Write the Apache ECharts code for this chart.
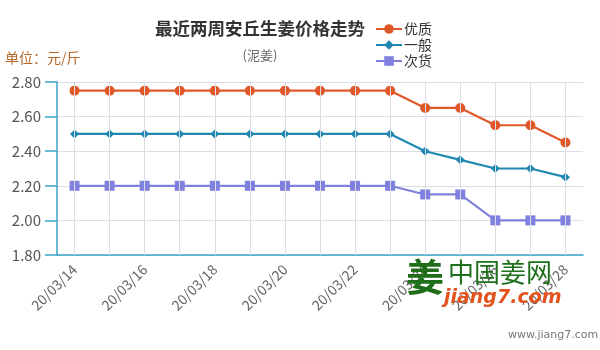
<!DOCTYPE html>
<html><head><meta charset="utf-8">
<script src="https://cdn.jsdelivr.net/npm/echarts@6/dist/echarts.min.js"></script>
<style>html,body{margin:0;padding:0;background:#fff}#c{width:600px;height:350px}</style>
</head><body><div id="c"></div>
<script>
const categories = ['20/03/14','20/03/15','20/03/16','20/03/17','20/03/18','20/03/19','20/03/20','20/03/21','20/03/22','20/03/23','20/03/24','20/03/25','20/03/26','20/03/27','20/03/28'];
const youzhi = [2.75,2.75,2.75,2.75,2.75,2.75,2.75,2.75,2.75,2.75,2.65,2.65,2.55,2.55,2.45];
const yiban  = [2.50,2.50,2.50,2.50,2.50,2.50,2.50,2.50,2.50,2.50,2.40,2.35,2.30,2.30,2.25];
const cihuo  = [2.20,2.20,2.20,2.20,2.20,2.20,2.20,2.20,2.20,2.20,2.15,2.15,2.00,2.00,2.00];
const yTicks = [1.8, 2.8, 0.2];

const font = '"Noto Sans CJK SC", "Noto Sans", sans-serif';
const chart = echarts.init(document.getElementById('c'));
chart.setOption({
  animation: false,
  textStyle: {fontFamily: font},
  title: {
    text: '最近两周安丘生姜价格走势',
    subtext: '(泥姜)',
    left: 255, top: 15, textAlign: 'center', itemGap: 11,
    textStyle: {fontSize: 17.5, fontWeight: 'bold', color: '#333', fontFamily: font},
    subtextStyle: {fontSize: 13, color: '#666', fontFamily: font}
  },
  legend: {
    orient: 'vertical', left: 370, top: 17, itemGap: 2,
    itemWidth: 26, itemHeight: 12,
    textStyle: {fontSize: 14, color: '#333', fontFamily: font, padding: [0,0,0,-3]},
    data: ['优质','一般','次货']
  },
  graphic: [
    {type: 'text', left: 5, top: 51, style: {text: '单位：元/斤', fontSize: 14, fill: '#b5682a', fontFamily: font}},
    {type: 'text', left: 406, top: 258, z: 10, style: {text: '姜', fontSize: 38, fontWeight: 'bold', fill: '#1f6f1a', fontFamily: font}},
    {type: 'text', left: 448, top: 259, z: 10, style: {text: '中国姜网', fontSize: 26, fill: '#1f6f1a', fontFamily: font}},
    {type: 'text', left: 444, top: 289, z: 10, style: {text: 'jiang7.com', fontSize: 19, fontWeight: 'bold', fontStyle: 'italic', fill: '#e4531e', fontFamily: 'DejaVu Sans'}},
    {type: 'text', left: 508, top: 330, style: {text: 'www.jiang7.com', fontSize: 11, fill: '#777', fontFamily: 'DejaVu Sans'}}
  ],
  grid: {left: 57, right: 17, top: 82, bottom: 95},
  xAxis: {
    type: 'category', data: categories, boundaryGap: true,
    axisLine: {lineStyle: {color: '#3ba4c8', width: 1.5}},
    axisTick: {alignWithLabel: true, interval: 1, length: 10, lineStyle: {color: '#3ba4c8', width: 1.5}},
    axisLabel: {interval: 1, rotate: 45, fontSize: 14, color: '#666', margin: 12, fontFamily: font},
    splitLine: {show: false}
  },
  yAxis: {
    type: 'value', min: yTicks[0], max: yTicks[1], interval: yTicks[2],
    axisLine: {show: true, lineStyle: {color: '#3ba4c8', width: 1.5}},
    axisTick: {show: true, length: 12, lineStyle: {color: '#3ba4c8', width: 1.5}},
    axisLabel: {fontSize: 15, color: '#555', margin: 16, formatter: v => v.toFixed(2), fontFamily: font},
    splitLine: {lineStyle: {color: '#dadde4'}}
  },
  series: [
    {name: 'grid', type: 'line', data: [], z: 0, silent: true,
     markLine: {silent: true, symbol: 'none', label: {show: false},
       lineStyle: {color: '#dadde4', type: 'solid', width: 1},
       data: categories.map(c => ({xAxis: c}))}},
    {name: '优质', type: 'line', data: youzhi, symbol: 'circle', symbolSize: 10, z: 3,
     itemStyle: {color: '#e0582a'}, lineStyle: {width: 2.2, color: '#e0582a'}},
    {name: '一般', type: 'line', data: yiban, symbol: 'diamond', symbolSize: 9, z: 3,
     itemStyle: {color: '#1e88b2'}, lineStyle: {width: 2.2, color: '#1e88b2'}},
    {name: '次货', type: 'line', data: cihuo, symbol: 'rect', symbolSize: 10, z: 3,
     itemStyle: {color: '#8080df'}, lineStyle: {width: 2.2, color: '#8080df'}}
  ]
});
</script></body></html>
